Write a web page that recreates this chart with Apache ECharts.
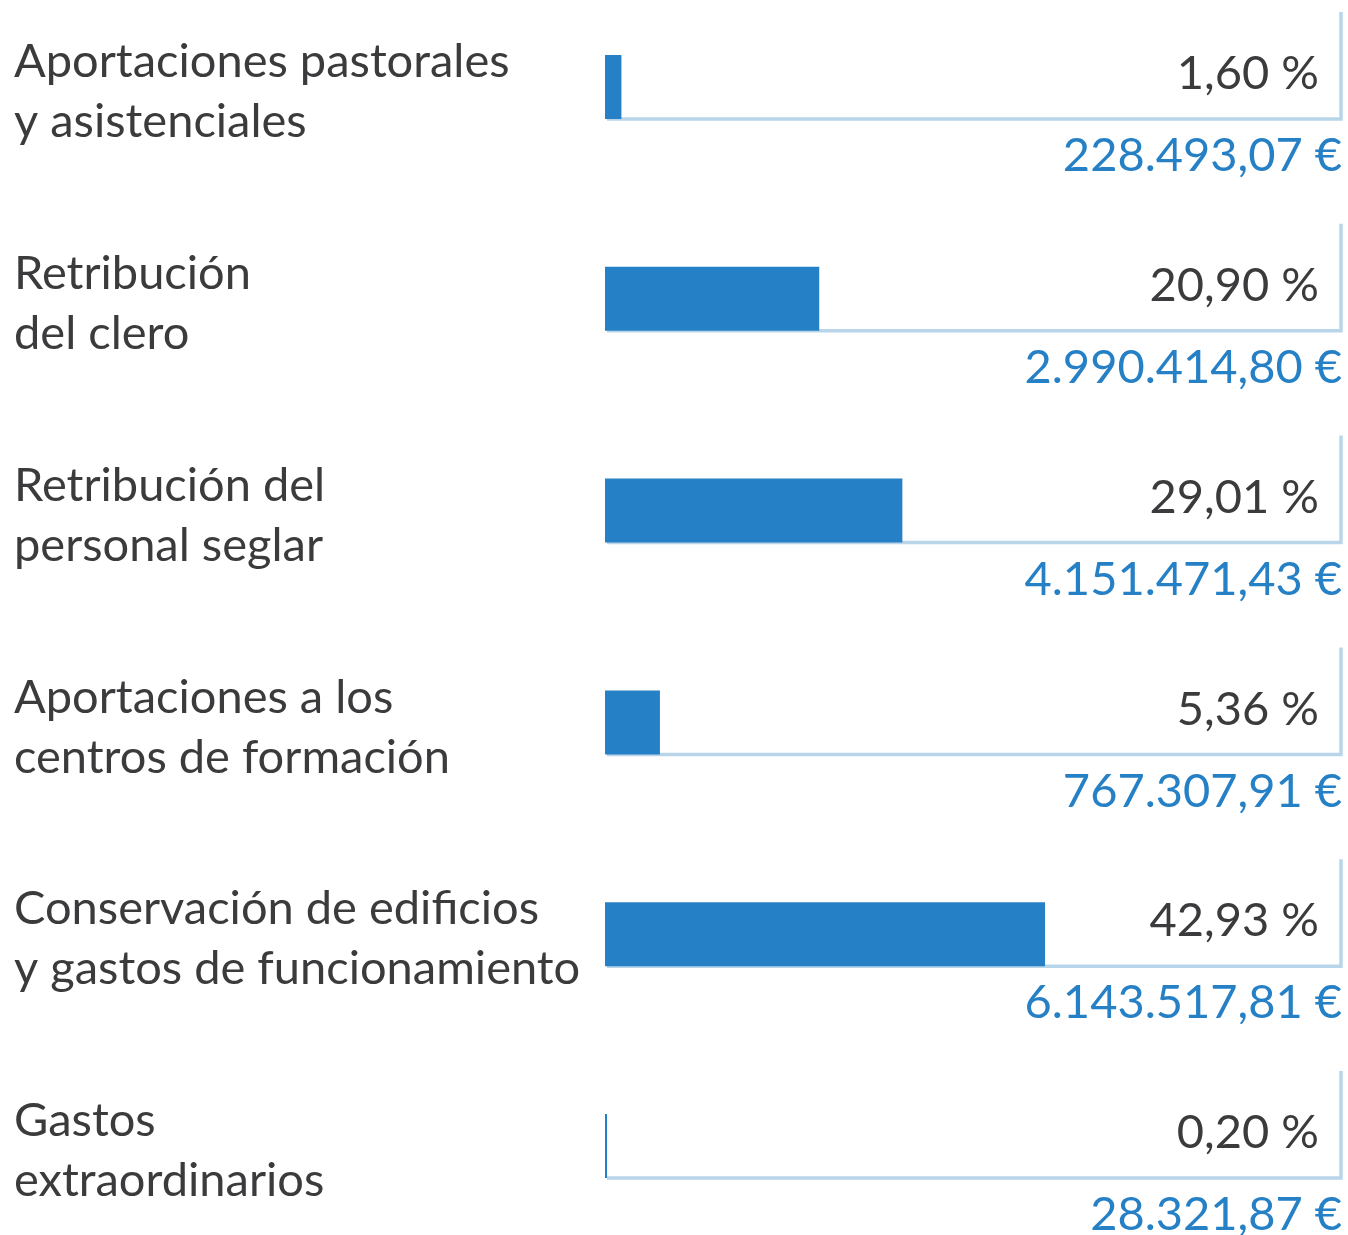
<!DOCTYPE html>
<html>
<head>
<meta charset="utf-8">
<script src="https://cdn.jsdelivr.net/npm/echarts@6/dist/echarts.min.js"></script>
<style>
html,body{margin:0;padding:0;background:#fff;}
#chart{width:1348px;height:1235px;}
</style>
</head>
<body>
<div id="chart"></div>
<script>
const categories = [
  'Aportaciones pastorales\ny asistenciales',
  'Retribución\ndel clero',
  'Retribución del\npersonal seglar',
  'Aportaciones a los\ncentros de formación',
  'Conservación de edificios\ny gastos de funcionamiento',
  'Gastos\nextraordinarios'
];
const percentages = [1.60, 20.90, 29.01, 5.36, 42.93, 0.20];
const amounts = [228493.07, 2990414.80, 4151471.43, 767307.91, 6143517.81, 28321.87];

const X_MAX = 72;
const FONT = 'Lato';
const DARK = '#3b3b3d';
const BLUE = '#2680c5';
const FRAME = '#b9d5ea';

function fmtPct(v){ return v.toFixed(2).replace('.', ',') + ' %'; }
function fmtEur(v){
  const parts = v.toFixed(2).split('.');
  const int = parts[0].replace(/\B(?=(\d{3})+(?!\d))/g, '.');
  return int + ',' + parts[1] + ' €';
}

const chart = echarts.init(document.getElementById('chart'), null, {renderer: 'canvas'});
chart.setOption({
  animation: false,
  backgroundColor: '#ffffff',
  grid: {left: 605, right: 5, top: 87, bottom: 89},
  xAxis: {type: 'value', min: 0, max: X_MAX, show: false},
  yAxis: {
    type: 'category', data: categories, inverse: true, boundaryGap: false,
    axisLine: {show: false}, axisTick: {show: false}, splitLine: {show: false},
    axisLabel: {show: false}
  },
  series: [
    {
      type: 'custom', z: 1,
      data: percentages.map((v, i) => [i]),
      renderItem: function(params, api){
        const i = params.dataIndex;
        const p0 = api.coord([0, i]);
        const pr = api.coord([X_MAX, i]);
        const y = p0[1];
        const xr = pr[0] - 2;
        const yb = y + 32;
        return {
          type: 'group',
          children: [
            {type: 'polyline', shape: {points: [[p0[0] + 2, yb], [xr, yb], [xr, yb - 107]]},
             style: {stroke: FRAME, lineWidth: 3.5, fill: null}},
            {type: 'text', style: {x: 14, y: y + 5, text: categories[i], lineHeight: 60,
              align: 'left', verticalAlign: 'middle', fill: DARK, font: '47px ' + FONT}},
            {type: 'text', style: {x: xr - 22, y: y - 13, text: fmtPct(percentages[i]),
              align: 'right', verticalAlign: 'middle', fill: DARK, font: '47px ' + FONT}},
            {type: 'text', style: {x: xr + 1, y: yb + 37, text: fmtEur(amounts[i]),
              align: 'right', verticalAlign: 'middle', fill: BLUE, font: '47px ' + FONT}}
          ]
        };
      }
    },
    {
      type: 'bar', z: 2, data: percentages, barWidth: 64,
      itemStyle: {color: BLUE}
    }
  ]
});
</script>
</body>
</html>
